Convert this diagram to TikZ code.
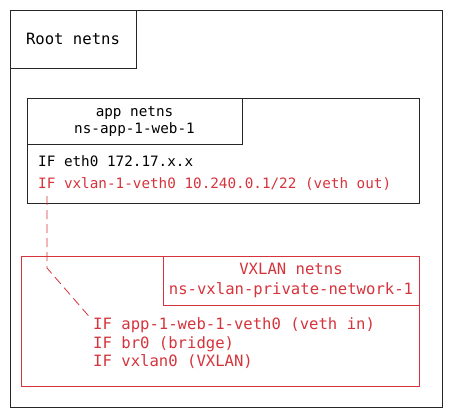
\documentclass[tikz,border=0pt]{standalone}
\usepackage{fontspec}
\setmonofont{DejaVu Sans Mono}
\usetikzlibrary{positioning,calc}
\definecolor{vxred}{RGB}{214,52,60}
\begin{document}
\begin{tikzpicture}[x=1pt,y=-1pt,
   nsbox/.style={draw=#1,line width=0.9pt,anchor=north west,inner sep=0pt},
   nsbox/.default=black!85,
   lbl/.style={draw=#1,line width=0.9pt,align=center,inner sep=0pt,font=\ttfamily\fontsize{15.6}{20}\selectfont},
   lbl/.default=black!85,
   iface/.style={anchor=base west,inner sep=0pt,font=\ttfamily\fontsize{14.3}{17}\selectfont},
   vxiface/.style={anchor=base west,inner sep=0pt,text=vxred,font=\ttfamily\fontsize{15.6}{19}\selectfont},
   link/.style={vxred,line width=0.8pt,dash pattern=on 9pt off 5pt}]
 \useasboundingbox[fill=white] (0,0) rectangle (453,417);
 % root namespace
 \node[nsbox,minimum width=432,minimum height=397] (root) at (10,10) {};
 \node[lbl,minimum width=126,minimum height=58] (rootlbl) at (73,39) {Root netns};
 % app namespace
 \node[nsbox,minimum width=392,minimum height=105] (app) at (27,98) {};
 \node[lbl,minimum width=215,minimum height=46,font=\ttfamily\fontsize{14.3}{17}\selectfont] (applbl) at (134.5,121) {app netns\\ns-app-1-web-1};
 \node[iface] (eth0) at (38,167) {IF eth0 172.17.x.x};
 \node[iface,text=vxred] (vethout) at (38,189) {IF vxlan-1-veth0 10.240.0.1/22 (veth out)};
 % vxlan namespace
 \node[nsbox=vxred,minimum width=398,minimum height=130] (vx) at (21,256) {};
 \node[lbl=vxred,text=vxred,minimum width=256,minimum height=49] (vxlbl) at (291,280.5) {VXLAN netns\\ns-vxlan-private-network-1};
 \node[vxiface] (vethin) at (93,329.5) {IF app-1-web-1-veth0 (veth in)};
 \node[vxiface,below=19pt of vethin.base west,anchor=base west] (br0) {IF br0 (bridge)};
 \node[vxiface,below=18pt of br0.base west,anchor=base west] (vxlan0) {IF vxlan0 (VXLAN)};
 % veth pair
 \coordinate (bend) at (47,268);
 \draw[link] (vethout.south west -| bend) ++(0,5) -- (bend) -- ([shift={(-3,-12)}]vethin.base west);
\end{tikzpicture}
\end{document}
